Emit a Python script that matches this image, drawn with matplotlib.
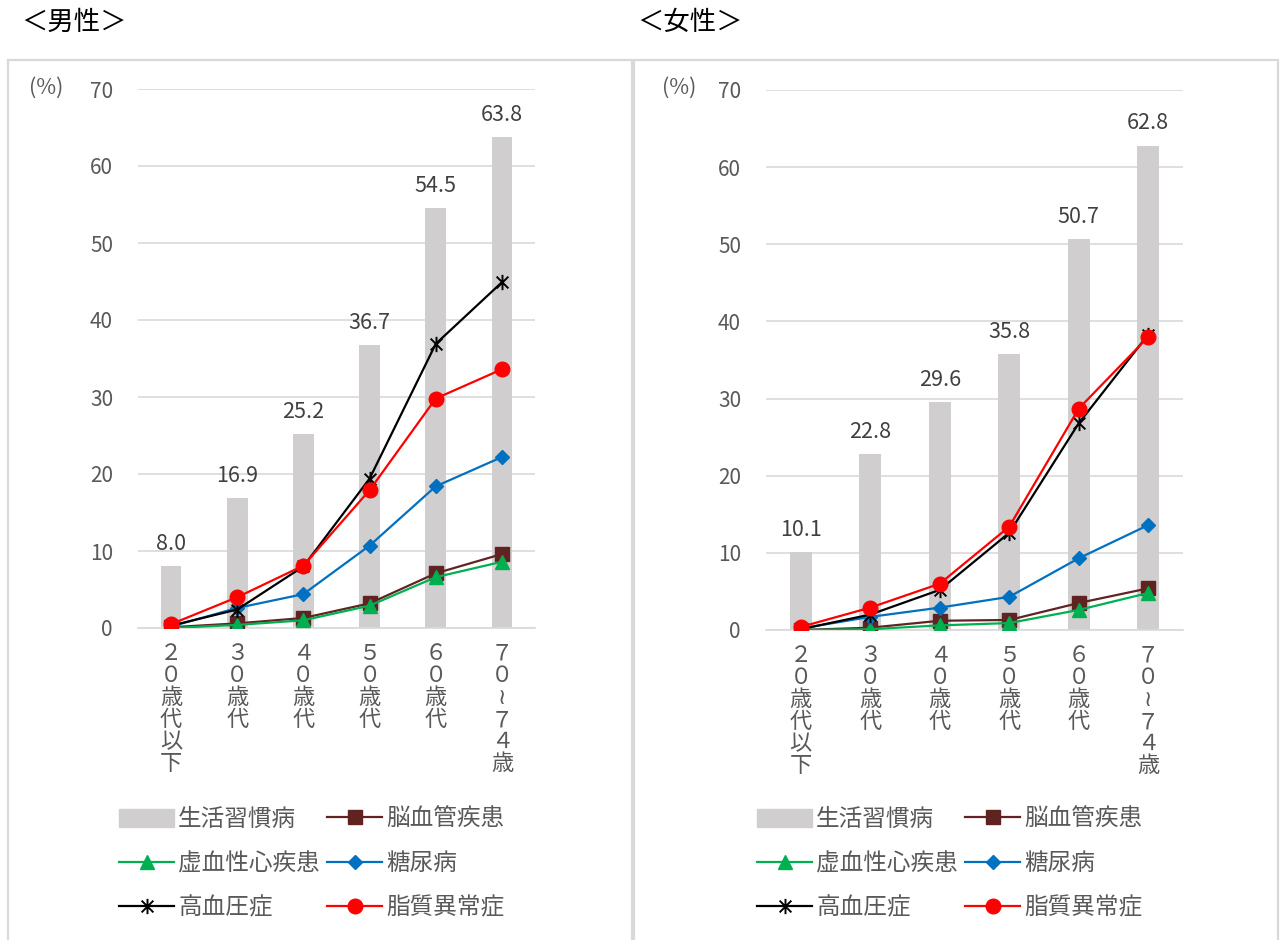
import matplotlib.pyplot as plt
from matplotlib.path import Path
from matplotlib.patches import Rectangle
from matplotlib.lines import Line2D
import numpy as np

plt.rcParams['font.family'] = ['Noto Sans CJK JP', 'DejaVu Sans']

# age groups (vertical labels, one char per line)
age_labels = ['２\n０\n歳\n代\n以\n下', '３\n０\n歳\n代', '４\n０\n歳\n代',
              '５\n０\n歳\n代', '６\n０\n歳\n代', '７\n０\n≀\n７\n４\n歳']

series_names = ['生活習慣病', '脳血管疾患', '虚血性心疾患', '糖尿病', '高血圧症', '脂質異常症']

# male (%)
male_lifestyle = [8.0, 16.9, 25.2, 36.7, 54.5, 63.8]
male_cerebro = [0.1, 0.6, 1.3, 3.2, 7.1, 9.6]
male_ischemic = [0.0, 0.4, 1.0, 2.9, 6.6, 8.6]
male_diabetes = [0.2, 2.6, 4.4, 10.7, 18.4, 22.2]
male_hypert = [0.3, 2.4, 8.0, 19.4, 36.9, 44.9]
male_lipid = [0.5, 4.0, 8.1, 17.9, 29.8, 33.6]

# female (%)
female_lifestyle = [10.1, 22.8, 29.6, 35.8, 50.7, 62.8]
female_cerebro = [0.0, 0.3, 1.2, 1.3, 3.5, 5.4]
female_ischemic = [0.0, 0.1, 0.6, 0.9, 2.6, 4.8]
female_diabetes = [0.2, 1.7, 2.9, 4.3, 9.3, 13.6]
female_hypert = [0.1, 2.0, 5.2, 12.6, 26.8, 38.3]
female_lipid = [0.4, 2.9, 6.0, 13.4, 28.7, 38.0]

bar_color = '#d0cece'
txt_color = '#595959'
grid_color = '#d9d9d9'

star = Path([(-1, -1), (1, 1), (-1, 1), (1, -1), (0, -1.3), (0, 1.3)],
            [Path.MOVETO, Path.LINETO, Path.MOVETO, Path.LINETO, Path.MOVETO, Path.LINETO])

line_styles = [
    dict(color='#612322', marker='s', markersize=9.5),
    dict(color='#00b050', marker='^', markersize=9.5),
    dict(color='#0070c0', marker='D', markersize=7.5),
    dict(color='black', marker=star, markersize=11, markeredgewidth=1.4),
    dict(color='#ff0000', marker='o', markersize=10.5),
]

fig = plt.figure(figsize=(12.8, 9.4), dpi=100)

# panel frames
for x0, x1 in [(8, 632), (634, 1278)]:
    fig.patches.append(Rectangle((x0 / 1280, -0.01), (x1 - x0) / 1280, 880 / 940 + 0.01,
                                 transform=fig.transFigure, fill=False,
                                 edgecolor=grid_color, linewidth=1.6, zorder=0))

fig.text(21 / 1280, 1 - 22 / 940, '＜男性＞', fontsize=19, va='center', ha='left')
fig.text(637 / 1280, 1 - 22 / 940, '＜女性＞', fontsize=19, va='center', ha='left')


def draw_panel(rect, bars, lines, pct_x, legend_x):
    ax = fig.add_axes(rect)
    x = np.arange(len(age_labels))
    ax.bar(x, bars, width=0.31, color=bar_color, zorder=1)
    for xi, v in zip(x, bars):
        ax.annotate(f'{v:.1f}', (xi, v), xytext=(0, 8), textcoords='offset points',
                    ha='center', va='bottom', fontsize=15.5, color='#404040')
    for vals, st in zip(lines, line_styles):
        ax.plot(x, vals, linewidth=1.6, zorder=3, **st)
    ax.set_xlim(-0.5, len(x) - 0.5)
    ax.set_ylim(0, 70)
    ax.set_yticks(range(0, 71, 10))
    ax.grid(axis='y', color=grid_color, linewidth=1.2, zorder=0)
    ax.set_axisbelow(True)
    for s in ['top', 'right', 'left']:
        ax.spines[s].set_visible(False)
    ax.spines['bottom'].set_color(grid_color)
    ax.spines['bottom'].set_linewidth(1.2)
    ax.tick_params(length=0, colors=txt_color, labelsize=15)
    ax.tick_params(axis='y', pad=18)
    ax.set_xticks(x)
    ax.set_xticklabels(age_labels, fontsize=16, linespacing=0.95, va='top')
    ax.tick_params(axis='x', pad=10)
    fig.text(pct_x / 1280, 1 - 88 / 940, '(%)', fontsize=15.5, color=txt_color,
             ha='center', va='center')

    handles = [Rectangle((0, 0), 1, 1, color=bar_color)]
    for st in line_styles:
        handles.append(Line2D([], [], linewidth=1.6, **st))
    order = [0, 2, 4, 1, 3, 5]
    fig.legend([handles[i] for i in order], [series_names[i] for i in order],
               ncol=2, loc='upper left', bbox_to_anchor=(legend_x / 1280, 1 - 808 / 940),
               frameon=False, fontsize=17, labelcolor=txt_color, handlelength=2.35,
               handletextpad=0.15, columnspacing=0.3, labelspacing=0.9, numpoints=1,
               borderaxespad=0, borderpad=0, handleheight=0.8)
    return ax


draw_panel([138 / 1280, 1 - 628 / 940, 397 / 1280, 539 / 940], male_lifestyle,
           [male_cerebro, male_ischemic, male_diabetes, male_hypert, male_lipid], 46, 119)
draw_panel([766 / 1280, 1 - 630 / 940, 417 / 1280, 540 / 940], female_lifestyle,
           [female_cerebro, female_ischemic, female_diabetes, female_hypert, female_lipid], 679, 757)

fig.savefig('out.png', dpi=100)
